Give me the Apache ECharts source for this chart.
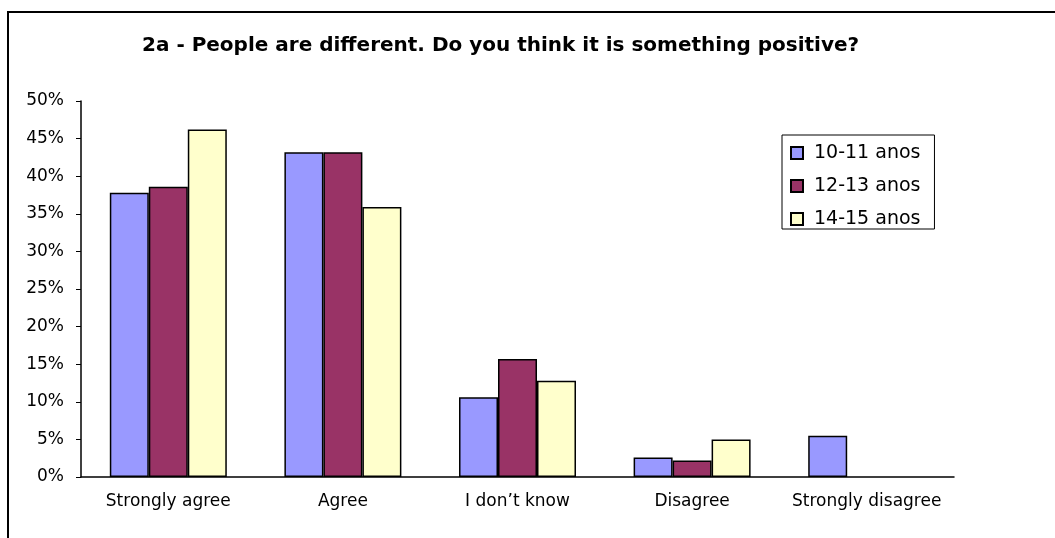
<!DOCTYPE html>
<html>
<head>
<meta charset="utf-8">
<script src="https://cdn.jsdelivr.net/npm/echarts@6/dist/echarts.min.js"></script>
<style>
  html, body { margin: 0; padding: 0; background: #fff; }
  #chart { width: 1055px; height: 538px; }
</style>
</head>
<body>
<div id="chart"></div>
<script>
const categories = ['Strongly agree', 'Agree', 'I don\u2019t know', 'Disagree', 'Strongly disagree']
const age1011 = [37.8, 43.2, 10.6, 2.6, 5.5]
const age1213 = [38.6, 43.2, 15.7, 2.2, null]
const age1415 = [46.2, 35.9, 12.8, 5.0, null]
const seriesNames = ['10-11 anos', '12-13 anos', '14-15 anos']
const colors = ['#9999FF', '#993366', '#FFFFCC']

const chart = echarts.init(document.getElementById('chart'))

function barSeries(name, data, color) {
  return {
    name: name,
    type: 'bar',
    data: data,
    barGap: '0%',
    barCategoryGap: '33%',
    itemStyle: { color: color, borderColor: '#000', borderWidth: 1.5 }
  }
}

chart.setOption({
  animation: false,
  textStyle: { fontFamily: 'DejaVu Sans, Arial, sans-serif' },
  title: {
    text: '2a - People are different. Do you think it is something positive?',
    left: 137,
    top: 31,
    textStyle: { fontSize: 20, fontWeight: 'bold', color: '#000', fontFamily: 'DejaVu Sans' }
  },
  graphic: [{
    type: 'rect',
    shape: { x: 8, y: 12, width: 1200, height: 700 },
    style: { fill: 'none', stroke: '#000', lineWidth: 2 },
    silent: true
  }],
  legend: {
    orient: 'vertical',
    left: 782,
    top: 135,
    padding: [8, 14, 0, 8],
    itemGap: 13,
    itemWidth: 12,
    itemHeight: 12,
    icon: 'rect',
    borderColor: '#000',
    borderWidth: 1,
    textStyle: { fontSize: 19, color: '#000', lineHeight: 20, padding: [0, 0, 0, 6] },
    data: seriesNames
  },
  grid: { left: 81, right: 101, top: 101, bottom: 61 },
  xAxis: {
    type: 'category',
    data: categories,
    axisLine: { lineStyle: { color: '#000', width: 1.5 } },
    axisTick: { length: 5, lineStyle: { color: '#000' } },
    axisLabel: { color: '#000', fontSize: 17, margin: 16, interval: 0 }
  },
  yAxis: {
    type: 'value',
    min: 0,
    max: 50,
    interval: 5,
    axisLine: { show: true, lineStyle: { color: '#000', width: 1.5 } },
    axisTick: { show: true, length: 5, lineStyle: { color: '#000' } },
    splitLine: { show: false },
    axisLabel: { color: '#000', fontSize: 17, margin: 17, formatter: '{value}%' }
  },
  series: [
    barSeries(seriesNames[0], age1011, colors[0]),
    barSeries(seriesNames[1], age1213, colors[1]),
    barSeries(seriesNames[2], age1415, colors[2])
  ]
})
</script>
</body>
</html>
